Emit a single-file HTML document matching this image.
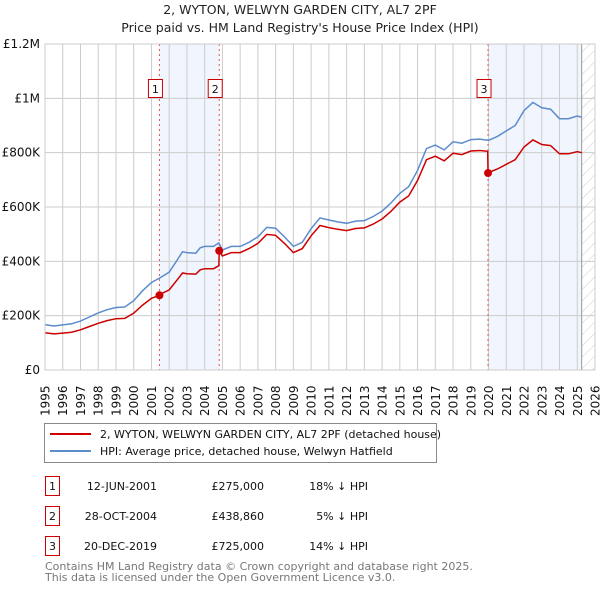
<!DOCTYPE html>
<html><head><meta charset="utf-8"><style>
body{margin:0;background:#fff;font-family:"DejaVu Sans","Liberation Sans",sans-serif;}
svg text{font-family:"DejaVu Sans","Liberation Sans",sans-serif;}
</style></head><body>
<svg id="chart" width="600" height="590" xmlns="http://www.w3.org/2000/svg">
<defs><pattern id="hatch" width="8" height="8" patternUnits="userSpaceOnUse" patternTransform="rotate(45)"><line x1="0" y1="0" x2="0" y2="8" stroke="#ccc" stroke-width="1"/></pattern></defs>
<text x="300" y="14" text-anchor="middle" font-size="12.5" fill="#222">2, WYTON, WELWYN GARDEN CITY, AL7 2PF</text>
<text x="300" y="32" text-anchor="middle" font-size="12.5" fill="#222">Price paid vs. HM Land Registry's House Price Index (HPI)</text>
<g id="plot"></g>
<g>
<rect x="44.5" y="423.5" width="392" height="39" fill="#fff" stroke="#888"/>
<line x1="50" y1="434" x2="91" y2="434" stroke="#cc0000" stroke-width="2"/>
<text x="100" y="438" font-size="11" fill="#111">2, WYTON, WELWYN GARDEN CITY, AL7 2PF (detached house)</text>
<line x1="50" y1="451" x2="91" y2="451" stroke="#5b8ccc" stroke-width="2"/>
<text x="100" y="455" font-size="11" fill="#111">HPI: Average price, detached house, Welwyn Hatfield</text>
</g>
<g id="table" font-size="11" fill="#111"></g>
<text x="45" y="570" font-size="11" fill="#777">Contains HM Land Registry data © Crown copyright and database right 2025.</text>
<text x="45" y="581" font-size="11" fill="#777">This data is licensed under the Open Government Licence v3.0.</text>
</svg>
<script>
const hpiDates=[1995,1995.5,1996,1996.5,1997,1997.5,1998,1998.5,1999,1999.5,2000,2000.5,2001,2001.5,2002,2002.5,2002.75,2003,2003.5,2003.75,2004,2004.5,2004.8,2005,2005.5,2006,2006.5,2007,2007.5,2008,2008.5,2009,2009.5,2010,2010.5,2011,2011.5,2012,2012.5,2013,2013.5,2014,2014.5,2015,2015.5,2016,2016.5,2017,2017.5,2018,2018.5,2019,2019.5,2020,2020.5,2021,2021.5,2022,2022.5,2023,2023.5,2024,2024.5,2025,2025.25];
const hpiValues=[167,162,166,170,180,195,210,222,230,232,255,292,322,340,360,410,435,432,430,450,455,455,468,442,455,455,470,490,525,522,490,455,470,520,560,552,545,540,548,550,565,585,615,650,675,735,815,828,810,840,835,848,850,845,860,880,900,955,985,965,960,925,925,935,930];
const priceDates=[1995,1995.5,1996,1996.5,1997,1997.5,1998,1998.5,1999,1999.5,2000,2000.5,2001,2001.45,2001.5,2002,2002.5,2002.75,2003,2003.5,2003.75,2004,2004.5,2004.8,2004.82,2005,2005.5,2006,2006.5,2007,2007.5,2008,2008.5,2009,2009.5,2010,2010.5,2011,2011.5,2012,2012.5,2013,2013.5,2014,2014.5,2015,2015.5,2016,2016.5,2017,2017.5,2018,2018.5,2019,2019.5,2019.95,2019.97,2020,2020.5,2021,2021.5,2022,2022.5,2023,2023.5,2024,2024.5,2025,2025.25];
const priceValues=[137,133,136,139,148,160,172,182,189,190,209,239,264,275,279,295,336,357,354,353,369,373,373,384,439,420,432,432,447,466,499,496,466,432,447,494,532,524,518,513,521,523,537,556,584,618,641,698,774,787,770,798,793,806,808,805,725,727,740,757,774,821,847,830,826,796,796,804,800];
const saleLabels=["1","2","3"];
const saleDates=[2001.45,2004.82,2019.97];
const salePrices=[275,438.86,725];
const saleDateText=["12-JUN-2001","28-OCT-2004","20-DEC-2019"];
const salePriceText=["£275,000","£438,860","£725,000"];
const saleDiffText=["18% ↓ HPI","5% ↓ HPI","14% ↓ HPI"];
const yTicks=[0,200,400,600,800,1000,1200];
const yTickLabels=["£0","£200K","£400K","£600K","£800K","£1M","£1.2M"];
const dataEnd=2025.25;

const NS="http://www.w3.org/2000/svg";
const X0=45,X1=595,Y0=370,Y1=44,YR0=1995,YR1=2026,VMAX=1200;
const xs=d=>X0+(d-YR0)*(X1-X0)/(YR1-YR0);
const ys=v=>Y0-v*(Y0-Y1)/VMAX;
const plot=document.getElementById('plot');
function mk(tag,attrs,parent){const e=document.createElementNS(NS,tag);for(const k in attrs)e.setAttribute(k,attrs[k]);(parent||plot).appendChild(e);return e;}

// shaded regions
let r=mk('rect',{x:xs(saleDates[0]),y:Y1,width:xs(saleDates[1])-xs(saleDates[0]),height:Y0-Y1,fill:'#eef3fc',opacity:0.8});


r=mk('rect',{x:xs(saleDates[2]),y:Y1,width:xs(dataEnd)-xs(saleDates[2]),height:Y0-Y1,fill:'#eef3fc',opacity:0.8});


r=mk('rect',{x:xs(dataEnd),y:Y1,width:X1-xs(dataEnd),height:Y0-Y1,fill:'url(#hatch)'});



// grid
for(let yr=YR0;yr<=YR1;yr++){
  const g=mk('line',{x1:xs(yr),x2:xs(yr),y1:Y1,y2:Y0,stroke:'#cccccc','stroke-width':1});
  
  
  const t=mk('text',{transform:`translate(${xs(yr)+4.5},${Y0+46}) rotate(-90)`,'font-size':12,fill:'#111'});
  t.textContent=yr;
  
  
}
yTicks.forEach((v,i)=>{
  const g=mk('line',{x1:X0,x2:X1,y1:ys(v),y2:ys(v),stroke:'#cccccc','stroke-width':1});
  
  
  const t=mk('text',{x:X0-5,y:ys(v)+4,'text-anchor':'end','font-size':12,fill:'#111'});
  t.textContent=yTickLabels[i];
  
  
});
let el=mk('line',{x1:xs(dataEnd),x2:xs(dataEnd),y1:Y1,y2:Y0,stroke:'#999','stroke-width':1});



// sale vertical lines
saleDates.forEach((d,i)=>{
  const l=mk('line',{x1:xs(d),x2:xs(d),y1:Y1,y2:Y0,stroke:'#e05555','stroke-width':1,'stroke-dasharray':'2,3'});
  
  
});

// series
function path(ds,vs){return ds.map((d,i)=>(i?'L':'M')+xs(d).toFixed(1)+','+ys(vs[i]).toFixed(1)).join('');}
let p=mk('path',{d:path(hpiDates,hpiValues),fill:'none',stroke:'#5b8ccc','stroke-width':1.5});


p=mk('path',{d:path(priceDates,priceValues),fill:'none',stroke:'#cc0000','stroke-width':1.5});



saleDates.forEach((d,i)=>{
  const c=mk('circle',{cx:xs(d),cy:ys(salePrices[i]),r:4,fill:'#cc0000'});
  
  
  const b=mk('rect',{x:xs(d)-11,y:79.5,width:14,height:18,fill:'#fff',stroke:'#cc0000','stroke-width':1});
  
  
  const t=mk('text',{x:xs(d)-4,y:93,'text-anchor':'middle','font-size':11,fill:'#111'});
  t.textContent=saleLabels[i];
  
  
});
let ax=mk('rect',{x:X0,y:Y1,width:X1-X0,height:Y0-Y1,fill:'none',stroke:'#cccccc'});



// table
const tbl=document.getElementById('table');
saleLabels.forEach((s,i)=>{
  const y=476+i*30;
  const g=mk('g',{},tbl);
  
  
  const b=mk('rect',{x:45.5,y:y+0.5,width:14,height:19,fill:'#fff',stroke:'#cc0000'},g);
  
  
  const cells=[[52.5,'middle',s],[157,'end',saleDateText[i]],[264,'end',salePriceText[i]],[368,'end',saleDiffText[i]]];
  cells.forEach((c,j)=>{
    const t=mk('text',{x:c[0],y:y+14,'text-anchor':c[1]},g);
    t.textContent=c[2];
    
    
  });
});
</script>
</body></html>
